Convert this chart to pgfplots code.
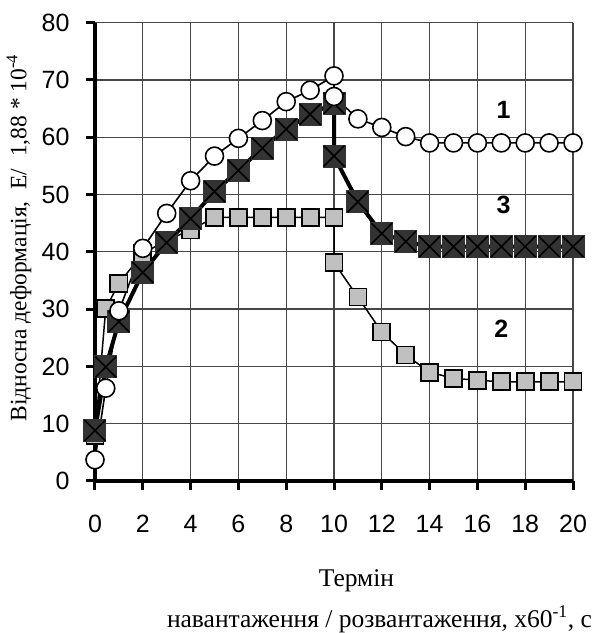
\documentclass[border=0pt]{standalone}
\usepackage{fontspec}
\setmainfont{Liberation Serif}
\setsansfont{Liberation Sans}
\usepackage{pgfplots}
\pgfplotsset{compat=1.18}

% filled square with a diagonal cross
\pgfdeclareplotmark{xbox}{%
  \pgfpathrectangle{\pgfpoint{-\pgfplotmarksize}{-\pgfplotmarksize}}{\pgfpoint{2\pgfplotmarksize}{2\pgfplotmarksize}}%
  \pgfusepathqfill
  \pgfpathmoveto{\pgfpoint{-0.9\pgfplotmarksize}{-0.9\pgfplotmarksize}}%
  \pgfpathlineto{\pgfpoint{0.9\pgfplotmarksize}{0.9\pgfplotmarksize}}%
  \pgfpathmoveto{\pgfpoint{-0.9\pgfplotmarksize}{0.9\pgfplotmarksize}}%
  \pgfpathlineto{\pgfpoint{0.9\pgfplotmarksize}{-0.9\pgfplotmarksize}}%
  \pgfusepathqstroke
}

\definecolor{lightgr}{HTML}{C0C0C0}
\definecolor{darkgr}{HTML}{333333}

\newcommand\tickfont{\sffamily\fontsize{25}{29}\selectfont}
\newcommand\ylabfont{\rmfamily\fontsize{23.5}{27}\selectfont}
\newcommand\xlabfont{\rmfamily\fontsize{25.5}{29}\selectfont}

\begin{document}
\begin{tikzpicture}
\begin{axis}[
  name=ax,
  scale only axis,
  width=478pt, height=458.4pt,
  xmin=0, xmax=20, ymin=0, ymax=80,
  xtick={0,2,...,20}, ytick={0,10,...,80},
  axis lines=left,
  axis line style={-, line width=3.5pt, black},
  grid=major,
  major grid style={line width=1.3pt, color=black!72},
  tick align=outside,
  major tick length=9pt,
  tick style={line width=3pt, black},
  clip=false,
  /pgf/number format/assume math mode=true,
  xticklabel style={font=\tickfont, anchor=center, yshift=-34pt},
  yticklabel style={font=\tickfont, anchor=east, xshift=-13pt},
]
% curve 2
\addplot[black, line width=1.5pt, mark=square*, mark size=8.5pt,
  mark options={fill=lightgr, draw=black, line width=1.8pt}] coordinates {
  (0,8) (0.45,30.1) (1,34.5) (2,39.7) (3,42.0) (4,43.8) (5,46) (6,46) (7,46)
  (8,46) (9,46) (10,46) (10,38.1) (11,32.1) (12,26.0) (13,22.0) (14,19.0)
  (15,17.9) (16,17.6) (17,17.3) (18,17.3) (19,17.3) (20,17.3)};
% curve 3
\addplot[black, line width=4pt, mark=xbox, mark size=11.5pt,
  mark options={fill=darkgr, draw=black, line width=1.6pt}] coordinates {
  (0,8.8) (0.45,19.9) (1,27.8) (2,36.4) (3,41.6) (4,45.8) (5,50.5) (6,54.2)
  (7,58.1) (8,61.4) (9,64.0) (10,65.9) (10,56.7) (11,48.7) (12,43.2) (13,41.8)
  (14,40.9) (15,40.9) (16,40.9) (17,40.9) (18,40.9) (19,40.9) (20,40.9)};
% curve 1
\addplot[black, line width=1.6pt, mark=*, mark size=9pt,
  mark options={fill=white, draw=black, line width=1.6pt}] coordinates {
  (0,3.7) (0.45,16.2) (1,29.7) (2,40.6) (3,46.7) (4,52.4) (5,56.7) (6,59.8)
  (7,62.9) (8,66.2) (9,68.2) (10,70.7) (10,67.1) (11,63.2) (12,61.7) (13,60.1)
  (14,59.0) (15,59.0) (16,59.0) (17,59.0) (18,59.0) (19,59.0) (20,59.0)};

\node[font=\sffamily\bfseries\fontsize{25}{28}\selectfont] at (axis cs:17.1,64.7) {1};
\node[font=\sffamily\bfseries\fontsize{25}{28}\selectfont] at (axis cs:17.1,48.2) {3};
\node[font=\sffamily\bfseries\fontsize{25}{28}\selectfont] at (axis cs:17.0,26.6) {2};

\node[rotate=90, font=\ylabfont] at ([xshift=-76pt]axis cs:0,42.4)
  {Відносна деформація,\ \ Е/ \ 1,88 * 10\textsuperscript{-4}};
\end{axis}
\node[font=\xlabfont, anchor=base, inner sep=0pt]
  at ([xshift=261.5pt,yshift=-106pt]ax.south west) {Термін};
\node[font=\xlabfont, anchor=base, inner sep=0pt]
  at ([xshift=284.5pt,yshift=-146pt]ax.south west)
  {навантаження / розвантаження, х60\textsuperscript{-1}, с};
\pgfresetboundingbox
\path[use as bounding box] ([xshift=-95pt,yshift=-152pt]ax.south west)
  rectangle ([xshift=18pt,yshift=22.6pt]ax.north east);
\end{tikzpicture}
\end{document}
